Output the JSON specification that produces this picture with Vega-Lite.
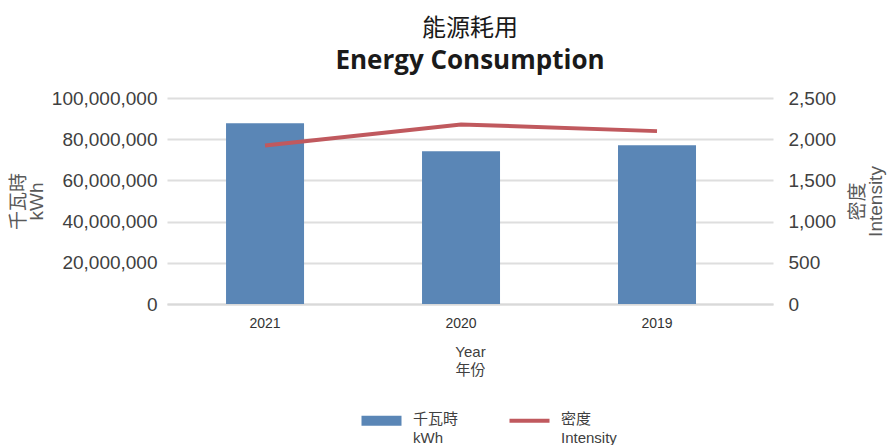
{
  "$schema": "https://vega.github.io/schema/vega-lite/v6.json",
  "width": 606,
  "height": 206,
  "autosize": {"type": "none"},
  "padding": {"left": 167, "top": 98, "right": 118, "bottom": 141},
  "background": "white",
  "title": {
    "text": "能源耗用",
    "subtitle": "Energy Consumption",
    "anchor": "middle",
    "font": "Noto Sans CJK TC",
    "fontSize": 24,
    "fontWeight": "normal",
    "color": "#1a1a1a",
    "subtitleFont": "Open Sans",
    "subtitleFontSize": 26,
    "subtitleFontWeight": "bold",
    "subtitleColor": "#1a1a1a",
    "subtitlePadding": 7,
    "offset": 15
  },
  "config": {
    "view": {"stroke": null},
    "font": "Liberation Sans, Noto Sans CJK TC",
    "axis": {"labelFont": "Liberation Sans, Noto Sans CJK TC", "titleFont": "Liberation Sans, Noto Sans CJK TC"},
    "legend": {"labelFont": "Liberation Sans, Noto Sans CJK TC"}
  },
  "data": {
    "values": [
      {"year": "2021", "kwh": 87800000, "intensity": 1923},
      {"year": "2020", "kwh": 74100000, "intensity": 2179},
      {"year": "2019", "kwh": 77100000, "intensity": 2098}
    ]
  },
  "encoding": {
    "x": {
      "field": "year",
      "type": "nominal",
      "sort": ["2021", "2020", "2019"],
      "scale": {"paddingInner": 0.602, "paddingOuter": 0.347, "align": 0.434},
      "axis": {
        "title": ["Year", "年份"],
        "titleFontSize": 15,
        "titleFontWeight": "normal",
        "titleColor": "#404040",
        "titleLineHeight": 18,
        "titlePadding": 14,
        "labelAngle": 0,
        "labelFontSize": 14,
        "labelColor": "#333333",
        "labelPadding": 12,
        "ticks": false,
        "domain": true,
        "domainColor": "#d9d9d9",
        "domainWidth": 2
      }
    }
  },
  "layer": [
    {
      "mark": {"type": "bar"},
      "encoding": {
        "y": {
          "field": "kwh",
          "type": "quantitative",
          "scale": {"domain": [0, 100000000]},
          "axis": {
            "title": ["千瓦時", "kWh"],
            "titleFontSize": 19,
            "titleFontWeight": "normal",
            "titleColor": "#595959",
            "titleLineHeight": 18,
            "titleAngle": -90,
            "titlePadding": 5,
            "values": [0, 20000000, 40000000, 60000000, 80000000, 100000000],
            "format": ",d",
            "labelFontSize": 19,
            "labelColor": "#404040",
            "labelPadding": 10,
            "ticks": false,
            "domain": false,
            "grid": true,
            "gridColor": "#dedede",
            "gridWidth": 2
          }
        },
        "color": {
          "datum": "千瓦時|kWh",
          "type": "nominal",
          "scale": {"domain": ["千瓦時|kWh", "密度|Intensity"], "range": ["#5A86B6", "#C0595E"]},
          "legend": {
            "title": null,
            "orient": "none",
            "legendX": 207,
            "legendY": 315,
            "direction": "horizontal",
            "columnPadding": 42,
            "symbolSize": 1600,
            "labelExpr": "split(datum.label, '|')",
            "labelFontSize": 15,
            "labelColor": "#404040",
            "labelLimit": 200,
            "labelOffset": 12,
            "labelBaseline": "top",
            "encode": {
              "labels": {"update": {"lineHeight": {"value": 19}, "dy": {"value": -9}, "dx": {"value": 12}}},
              "symbols": {
                "update": {
                  "shape": {"signal": "datum.value === '密度|Intensity' ? 'stroke' : 'M-1,-0.25H1V0.25H-1Z'"},
                  "fill": {"signal": "datum.value === '密度|Intensity' ? 'transparent' : '#5A86B6'"},
                  "stroke": {"signal": "datum.value === '密度|Intensity' ? '#C0595E' : 'transparent'"},
                  "strokeWidth": {"signal": "datum.value === '密度|Intensity' ? 4 : 0"},
                  "opacity": {"value": 1}
                }
              }
            }
          }
        }
      }
    },
    {
      "mark": {"type": "line", "strokeWidth": 4},
      "encoding": {
        "y": {
          "field": "intensity",
          "type": "quantitative",
          "scale": {"domain": [0, 2500]},
          "axis": {
            "orient": "right",
            "title": ["密度", "Intensity"],
            "titleFontSize": 19,
            "titleFontWeight": "normal",
            "titleColor": "#595959",
            "titleLineHeight": 18,
            "titleAngle": -90,
            "titlePadding": 14,
            "values": [0, 500, 1000, 1500, 2000, 2500],
            "format": ",d",
            "labelFontSize": 19,
            "labelColor": "#404040",
            "labelPadding": 15,
            "ticks": false,
            "domain": false,
            "grid": false
          }
        },
        "color": {
          "datum": "密度|Intensity",
          "type": "nominal"
        }
      }
    }
  ],
  "resolve": {"scale": {"y": "independent"}}
}
